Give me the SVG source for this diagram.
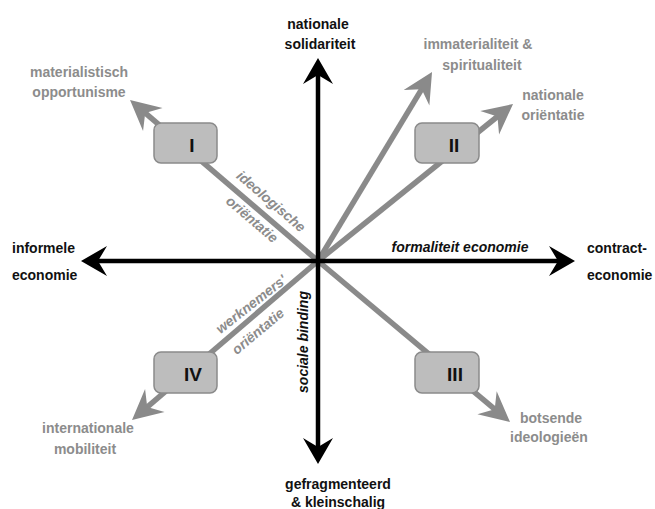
<svg xmlns="http://www.w3.org/2000/svg" width="655" height="509" viewBox="0 0 655 509">
<style>
.b{font-family:"Liberation Sans",Arial,sans-serif;font-weight:bold;font-size:14px;fill:#111}
.g{font-family:"Liberation Sans",Arial,sans-serif;font-weight:bold;font-size:14px;fill:#8c8c8c}
.gi{font-family:"Liberation Sans",Arial,sans-serif;font-weight:bold;font-style:italic;font-size:14px;fill:#8c8c8c}
.bi{font-family:"Liberation Sans",Arial,sans-serif;font-weight:bold;font-style:italic;font-size:14px;fill:#111}
.num{font-family:"Liberation Sans",Arial,sans-serif;font-weight:bold;font-size:19px;fill:#111;text-anchor:middle}
.box{fill:#bdbdbd;stroke:#8a8a8a;stroke-width:1.5}
.ga{stroke:#8a8a8a;stroke-width:5.5;fill:none;marker-end:url(#mg)}
.ba{stroke:#000;stroke-width:4.5;fill:none;marker-end:url(#mb)}
.m{text-anchor:middle}
</style>
<defs>
<marker id="mg" markerUnits="userSpaceOnUse" markerWidth="50" markerHeight="50" viewBox="-25 -25 50 50" refX="0" refY="0" orient="auto">
<path d="M8,0 L-22,-15 L-12,0 L-22,15 Z" fill="#8a8a8a"/>
</marker>
<marker id="mb" markerUnits="userSpaceOnUse" markerWidth="50" markerHeight="50" viewBox="-25 -25 50 50" refX="0" refY="0" orient="auto">
<path d="M8,0 L-18,-15 L-9,0 L-18,15 Z" fill="#000"/>
</marker>
</defs>
<g id="connectors">
<line class="ga" x1="318" y1="261" x2="136.1" y2="105.2"/>
<line class="ga" x1="318" y1="261" x2="427.9" y2="78.9"/>
<line class="ga" x1="318" y1="261" x2="506.8" y2="109.0"/>
<line class="ga" x1="318" y1="261" x2="503.9" y2="416.9"/>
<line class="ga" x1="318" y1="261" x2="138.1" y2="414.8"/>
<line class="ba" x1="318" y1="261" x2="318" y2="66"/>
<line class="ba" x1="318" y1="261" x2="318" y2="456"/>
<line class="ba" x1="318" y1="261" x2="89" y2="261"/>
<line class="ba" x1="318" y1="261" x2="567" y2="261"/>
</g>
<g id="node-I"><rect class="box" x="154" y="123" width="63" height="40" rx="7"/><text class="num" x="192" y="152">I</text></g>
<g id="node-II"><rect class="box" x="415" y="123" width="64" height="40" rx="7"/><text class="num" x="454" y="152">II</text></g>
<g id="node-III"><rect class="box" x="415" y="352" width="64" height="41" rx="7"/><text class="num" x="455" y="381">III</text></g>
<g id="node-IV"><rect class="box" x="154" y="352" width="63" height="41" rx="7"/><text class="num" x="193" y="381">IV</text></g>
<g id="labels">
<text class="b m" x="318" y="29">nationale</text>
<text class="b m" x="320" y="49">solidariteit</text>
<text class="b m" x="338" y="489">gefragmenteerd</text>
<text class="b m" x="338" y="507">&amp; kleinschalig</text>
<text class="b" x="12" y="253">informele</text>
<text class="b" x="12" y="280">economie</text>
<text class="b" x="587" y="253">contract-</text>
<text class="b" x="587" y="280">economie</text>
<text class="bi m" x="460" y="252">formaliteit economie</text>
<text class="bi m" x="308" y="342" transform="rotate(-90 308 342)">sociale binding</text>
<text class="g m" x="79" y="77">materialistisch</text>
<text class="g m" x="79" y="97">opportunisme</text>
<text class="g m" x="478" y="49">immaterialiteit &amp;</text>
<text class="g m" x="482" y="70">spiritualiteit</text>
<text class="g m" x="553" y="100">nationale</text>
<text class="g m" x="553" y="120">oriëntatie</text>
<text class="g m" x="551" y="423">botsende</text>
<text class="g m" x="549" y="442">ideologieën</text>
<text class="g m" x="88" y="433">internationale</text>
<text class="g m" x="85" y="454">mobiliteit</text>
<text class="gi m" x="268" y="205" transform="rotate(40.5 268 205)">ideologische</text>
<text class="gi m" x="249" y="223" transform="rotate(40.5 249 223)">oriëntatie</text>
<text class="gi m" x="254" y="308" transform="rotate(-38 254 308)">werknemers'</text>
<text class="gi m" x="261" y="335" transform="rotate(-40 261 335)">oriëntatie</text>
</g>
</svg>
